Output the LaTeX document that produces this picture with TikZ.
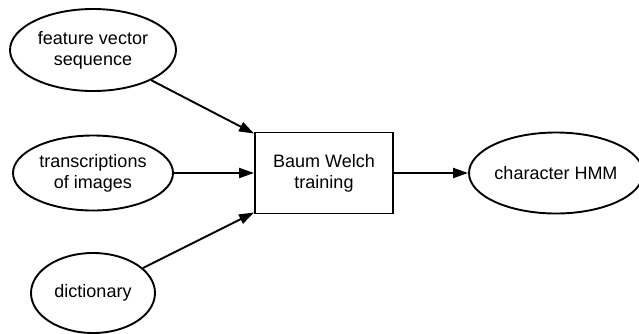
\documentclass[tikz,border=0pt]{standalone}
\usepackage{fontspec}
\setmainfont{Liberation Sans}
\usetikzlibrary{shapes.geometric,arrows.meta,calc}
\begin{document}
\begin{tikzpicture}[x=1pt,y=-1pt,
  every node/.style={font=\fontsize{18}{21}\selectfont, align=center, inner sep=0pt},
  oval/.style={ellipse, draw, line width=1.9pt},
  boxnode/.style={rectangle, draw, line width=1.9pt, minimum width=138pt, minimum height=81pt},
  conn/.style={line width=1.9pt, -{Triangle[length=15pt,width=10pt]}}]
\useasboundingbox (0,0) rectangle (639,333);
\node[oval, minimum width=166pt, minimum height=82pt] (f) at (93,50) {feature vector\\sequence};
\node[oval, minimum width=160pt, minimum height=75pt] (t) at (93,173) {transcriptions\\of images};
\node[oval, minimum width=124pt, minimum height=80pt] (d) at (93,293) {dictionary};
\node[boxnode] (b) at (324,173) {Baum Welch\\training};
\node[oval, minimum width=162pt, minimum height=81pt] (h) at (556,173) {character HMM};
\coordinate (bt) at ($(b.north west)+(0,2)$);
\coordinate (bb) at ($(b.south west)+(0,-2)$);
\draw[conn] (f) -- (bt);
\draw[conn] (t) -- (b);
\draw[conn] (d) -- (bb);
\draw[conn] (b) -- (h);
\end{tikzpicture}
\end{document}
